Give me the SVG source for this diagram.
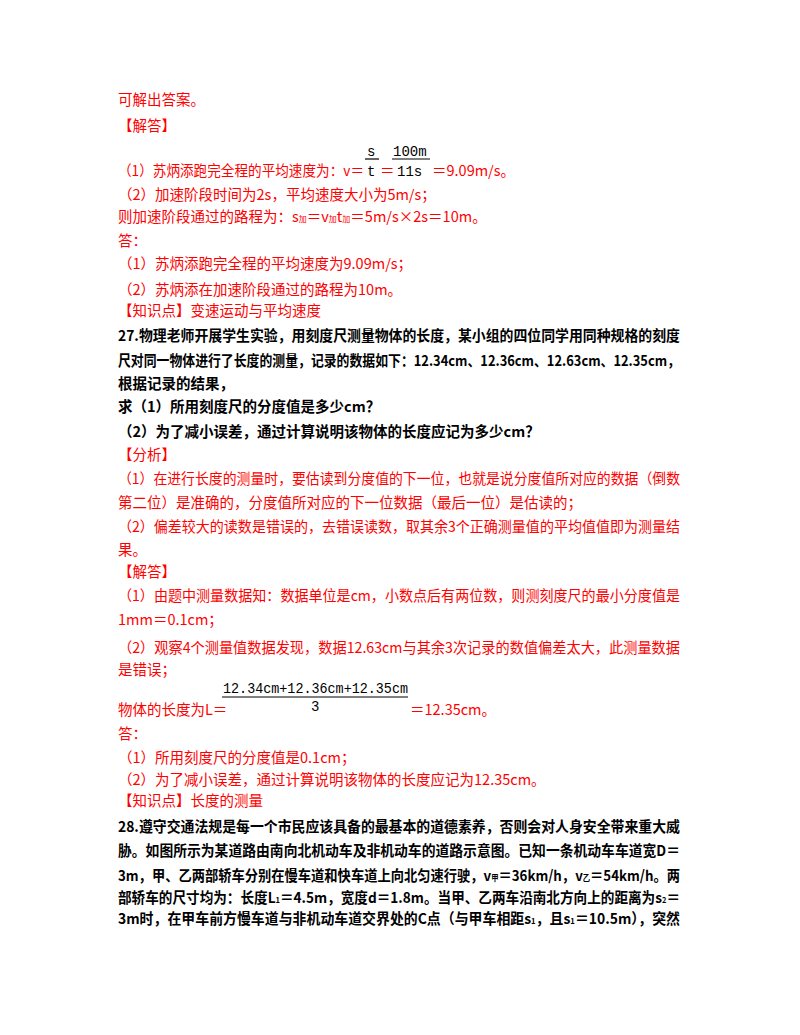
<svg xmlns="http://www.w3.org/2000/svg" width="800" height="1035" viewBox="0 0 800 1035">
<style>
text{font-family:"Noto Sans CJK SC","Noto Sans",sans-serif;font-size:14.5px}
.r{fill:#ff0000}
.b{fill:#000;font-weight:bold}
.f{fill:#000;font-family:"Liberation Mono",monospace;font-size:14px}
line{stroke:#000;stroke-width:1.2}
</style>
<rect width="800" height="1035" fill="#fff"/>
<g id="content">
<text class="r" x="118" y="105">可解出答案。</text>
<text class="r" x="118" y="131">【解答】</text>
<text class="r" x="118" y="176" textLength="246" lengthAdjust="spacingAndGlyphs">（1）苏炳添跑完全程的平均速度为：v＝</text>
<text class="f" x="367" y="156">s</text><line x1="365" y1="159" x2="379" y2="159"/>
<text class="f" x="367" y="176">t</text>
<text class="r" x="380" y="176">＝</text>
<text class="f" x="393" y="156">100m</text><line x1="392" y1="159" x2="430" y2="159"/>
<text class="f" x="397" y="176">11s</text>
<text class="r" x="432" y="176">＝9.09m/s。</text>
<text class="r" x="118" y="200">（2）加速阶段时间为2s，平均速度大小为5m/s；</text>
<text class="r" x="118" y="222">则加速阶段通过的路程为：s<tspan font-size="8">加</tspan>＝v<tspan font-size="8">加</tspan>t<tspan font-size="8">加</tspan>＝5m/s×2s＝10m。</text>
<text class="r" x="118" y="246">答：</text>
<text class="r" x="118" y="269">（1）苏炳添跑完全程的平均速度为9.09m/s；</text>
<text class="r" x="118" y="295">（2）苏炳添在加速阶段通过的路程为10m。</text>
<text class="r" x="118" y="316">【知识点】变速运动与平均速度</text>
<text class="b" x="118" y="341" textLength="562" lengthAdjust="spacingAndGlyphs">27.物理老师开展学生实验，用刻度尺测量物体的长度，某小组的四位同学用同种规格的刻度</text>
<text class="b" x="118" y="366" textLength="562" lengthAdjust="spacingAndGlyphs">尺对同一物体进行了长度的测量，记录的数据如下：12.34cm、12.36cm、12.63cm、12.35cm，</text>
<text class="b" x="118" y="389">根据记录的结果，</text>
<text class="b" x="118" y="412">求（1）所用刻度尺的分度值是多少cm？</text>
<text class="b" x="118" y="437">（2）为了减小误差，通过计算说明该物体的长度应记为多少cm？</text>
<text class="r" x="118" y="460">【分析】</text>
<text class="r" x="118" y="484" textLength="562" lengthAdjust="spacingAndGlyphs">（1）在进行长度的测量时，要估读到分度值的下一位，也就是说分度值所对应的数据（倒数</text>
<text class="r" x="118" y="508">第二位）是准确的，分度值所对应的下一位数据（最后一位）是估读的；</text>
<text class="r" x="118" y="532" textLength="562" lengthAdjust="spacingAndGlyphs">（2）偏差较大的读数是错误的，去错误读数，取其余3个正确测量值的平均值值即为测量结</text>
<text class="r" x="118" y="555">果。</text>
<text class="r" x="118" y="577">【解答】</text>
<text class="r" x="118" y="601" textLength="562" lengthAdjust="spacingAndGlyphs">（1）由题中测量数据知：数据单位是cm，小数点后有两位数，则测刻度尺的最小分度值是</text>
<text class="r" x="118" y="625">1mm＝0.1cm；</text>
<text class="r" x="118" y="653" textLength="562" lengthAdjust="spacingAndGlyphs">（2）观察4个测量值数据发现，数据12.63cm与其余3次记录的数值偏差太大，此测量数据</text>
<text class="r" x="118" y="675">是错误；</text>
<text class="f" x="223" y="693" textLength="185" lengthAdjust="spacingAndGlyphs">12.34cm+12.36cm+12.35cm</text>
<line x1="222" y1="697" x2="408" y2="697"/>
<text class="f" x="311" y="711">3</text>
<text class="r" x="118" y="715">物体的长度为L＝</text>
<text class="r" x="410" y="715">＝12.35cm。</text>
<text class="r" x="118" y="739">答：</text>
<text class="r" x="118" y="763">（1）所用刻度尺的分度值是0.1cm；</text>
<text class="r" x="118" y="785">（2）为了减小误差，通过计算说明该物体的长度应记为12.35cm。</text>
<text class="r" x="118" y="806">【知识点】长度的测量</text>
<text class="b" x="118" y="832" textLength="562" lengthAdjust="spacingAndGlyphs">28.遵守交通法规是每一个市民应该具备的最基本的道德素养，否则会对人身安全带来重大威</text>
<text class="b" x="118" y="856" textLength="562" lengthAdjust="spacingAndGlyphs">胁。如图所示为某道路由南向北机动车及非机动车的道路示意图。已知一条机动车车道宽D＝</text>
<text class="b" x="118" y="881" textLength="562" lengthAdjust="spacingAndGlyphs">3m，甲、乙两部轿车分别在慢车道和快车道上向北匀速行驶，v<tspan font-size="8">甲</tspan>＝36km/h，v<tspan font-size="8">乙</tspan>＝54km/h。两</text>
<text class="b" x="118" y="903" textLength="562" lengthAdjust="spacingAndGlyphs">部轿车的尺寸均为：长度L<tspan font-size="8">1</tspan>＝4.5m，宽度d＝1.8m。当甲、乙两车沿南北方向上的距离为s<tspan font-size="8">2</tspan>＝</text>
<text class="b" x="118" y="924" textLength="562" lengthAdjust="spacingAndGlyphs">3m时，在甲车前方慢车道与非机动车道交界处的C点（与甲车相距s<tspan font-size="8">1</tspan>，且s<tspan font-size="8">1</tspan>＝10.5m），突然</text>
</g>
</svg>
